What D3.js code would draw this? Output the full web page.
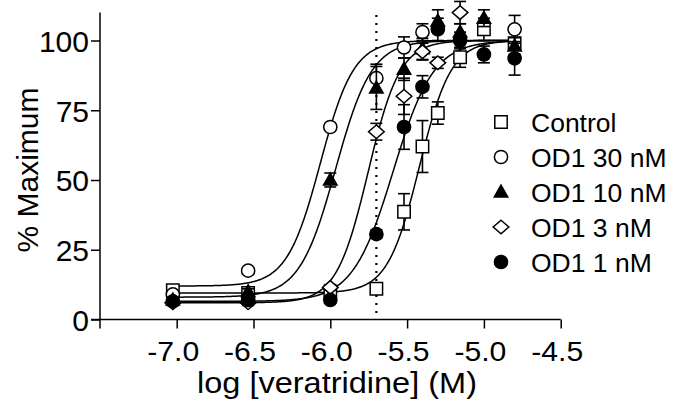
<!DOCTYPE html>
<html>
<head>
<meta charset="utf-8">
<script src="https://cdn.jsdelivr.net/npm/d3@7"></script>
<style>
  html, body { margin: 0; padding: 0; background: #fff; }
  svg { display: block; font-family: "Liberation Sans", Arial, sans-serif; }
</style>
</head>
<body>
<svg id="chart" width="676" height="414"></svg>
<script>
// Tick values
const xTickValues = [-7.0, -6.5, -6.0, -5.5, -5.0, -4.5];
const yTickValues = [0, 25, 50, 75, 100];

// log [veratridine] (M) tested
const logConc = [-7.025, -6.535, -6.0, -5.7, -5.52, -5.4, -5.3, -5.155, -5.0, -4.8];

// Series labels (legend order)
const seriesNames = ["Control", "OD1 30 nM", "OD1 10 nM", "OD1 3 nM", "OD1 1 nM"];

// Mean response (% maximum), null = not shown
const controlMean = [10.5, 9.5, 10, 11, 38.6, 62, 74, 94, 104, 99];
const od30Mean    = [9, 17.5, 69, 86.5, 97.5, 103, null, null, null, 104];
const od10Mean    = [7, 10, 50, 83, 89.7, 97, 107, 103, 108, 98];
const od3Mean     = [6, 6, 11.5, 67.3, 80, 96, 92, 110, null, null];
const od1Mean     = [6.5, 7, 7, 30.6, 69, 83.4, 104, 100, 95, 93.6];

// SEM
const controlSem = [1, 1, 1, 1, 6.5, 9.3, 4, 3.6, 4, 4];
const od30Sem    = [1, 1, 1, 5, 3.8, 3, null, null, null, 5];
const od10Sem    = [1, 1, 2.5, 7.7, 4, 3.8, 4, 3, 3, 3];
const od3Sem     = [1, 1, 1, 3, 6.5, 3, 2, 4, null, null];
const od1Sem     = [1, 1, 1, 1.5, 8, 4, 4, 3, 3, 6];

// Four-parameter logistic fits: bottom, top, logEC50, Hill slope
const fitBottom  = [9.5, 12, 8, 6, 6.5];
const fitTop     = [100, 100, 100, 100, 100];
const fitLogEC50 = [-5.42, -6.065, -5.965, -5.753, -5.59];
const fitHill    = [4.2, 4.0, 3.7, 4.2, 3.3];

// Reference concentration marked by the dotted line
const markerLogConc = [-5.7];

const means = [controlMean, od30Mean, od10Mean, od3Mean, od1Mean];
const sems = [controlSem, od30Sem, od10Sem, od3Sem, od1Sem];

// ---- drawing ----
const svg = d3.select("#chart");

const x = d3.scaleLinear().domain([-7.0, -4.5]).range([176.7, 560.7]);
const y = d3.scaleLinear().domain([0, 110]).range([319.5, 12.6]);

const axisLeftX = 100;       // y-axis position
const axisBottomY = y(0);    // x-axis position
const tickLen = 9;
const fontFam = "Liberation Sans, Arial, sans-serif";

// marker shapes
const shapes = {
  square: r => `M${-r},${-r}H${r}V${r}H${-r}Z`,
  circle: r => `M${r},0A${r},${r} 0 1,1 ${-r},0A${r},${r} 0 1,1 ${r},0Z`,
  triangle: r => `M0,${-r * 1.05}L${r * 1.02},${r * 0.75}L${-r * 1.02},${r * 0.75}Z`,
  diamond: r => `M0,${-r}L${r * 1.15},0L0,${r}L${-r * 1.15},0Z`
};
const seriesStyle = [
  { shape: "square", r: 6.2, fill: "#fff" },
  { shape: "circle", r: 6.6, fill: "#fff" },
  { shape: "triangle", r: 6.6, fill: "#000" },
  { shape: "diamond", r: 6.8, fill: "#fff" },
  { shape: "circle", r: 6.6, fill: "#000" }
];

// axes
const gx = svg.append("g").attr("transform", `translate(0,${axisBottomY})`);
gx.call(d3.axisBottom(x).tickValues(xTickValues).tickFormat(d => d.toFixed(1))
  .tickSize(tickLen).tickSizeOuter(0));
gx.select(".domain").remove();
gx.append("line").attr("x1", 91).attr("x2", x(-4.5)).attr("y1", 0).attr("y2", 0)
  .attr("stroke", "#000").attr("stroke-width", 1.5);
gx.selectAll(".tick text").attr("y", 41).attr("dy", null).attr("dx", -4)
  .attr("font-size", 27).attr("textLength", 52).attr("lengthAdjust", "spacingAndGlyphs");

const gy = svg.append("g").attr("transform", `translate(${axisLeftX},0)`);
gy.call(d3.axisLeft(y).tickValues(yTickValues).tickSize(tickLen).tickSizeOuter(0).tickPadding(2));
gy.select(".domain").remove();
gy.append("line").attr("x1", 0).attr("x2", 0).attr("y1", y(110)).attr("y2", axisBottomY + tickLen)
  .attr("stroke", "#000").attr("stroke-width", 1.5);
gy.selectAll(".tick text").attr("font-size", 30).attr("dy", "0.36em");

svg.selectAll(".tick line").attr("stroke", "#000").attr("stroke-width", 1.5);
svg.selectAll(".tick text").attr("fill", "#000").attr("font-family", fontFam);

// axis titles
svg.append("text").attr("x", 337).attr("y", 393).attr("text-anchor", "middle")
  .attr("font-size", 29).attr("textLength", 280).attr("lengthAdjust", "spacingAndGlyphs")
  .text("log [veratridine] (M)");
svg.append("text").attr("transform", "translate(38,170) rotate(-90)").attr("text-anchor", "middle")
  .attr("font-size", 30).text("% Maximum");

// dotted reference line
svg.selectAll(".ref").data(markerLogConc).enter().append("line")
  .attr("x1", d => x(d)).attr("x2", d => x(d))
  .attr("y1", 15).attr("y2", axisBottomY)
  .attr("stroke", "#000").attr("stroke-width", 2.2)
  .attr("stroke-dasharray", "2,6");

// fitted curves
const curveX = d3.range(-7.07, -4.76, 0.005);
const line = d3.line().x(d => x(d[0])).y(d => y(d[1]));
seriesNames.forEach((name, i) => {
  const pts = curveX.map(lx => [lx, fitBottom[i] + (fitTop[i] - fitBottom[i]) /
    (1 + Math.pow(10, (fitLogEC50[i] - lx) * fitHill[i]))]);
  svg.append("path").attr("d", line(pts)).attr("fill", "none")
    .attr("stroke", "#000").attr("stroke-width", 1.5);
});

// error bars and markers
const capHalf = 6;
seriesNames.forEach((name, i) => {
  const pts = logConc.map((lx, j) => ({ lx, m: means[i][j], s: sems[i][j] }))
    .filter(d => d.m !== null);
  const g = svg.append("g");
  pts.forEach(d => {
    const cx = x(d.lx), top = y(d.m + d.s), bot = y(d.m - d.s);
    g.append("line").attr("x1", cx).attr("x2", cx).attr("y1", top).attr("y2", bot)
      .attr("stroke", "#000").attr("stroke-width", 1.6);
    [top, bot].forEach(yy => g.append("line").attr("x1", cx - capHalf).attr("x2", cx + capHalf)
      .attr("y1", yy).attr("y2", yy).attr("stroke", "#000").attr("stroke-width", 1.6));
  });
  const st = seriesStyle[i];
  g.selectAll("path.mk").data(pts).enter().append("path")
    .attr("d", shapes[st.shape](st.r))
    .attr("transform", d => `translate(${x(d.lx)},${y(d.m)})`)
    .attr("fill", st.fill).attr("stroke", "#000").attr("stroke-width", 1.5);
});

// legend
const legend = svg.append("g");
const legendY = d3.scaleLinear().domain([0, 4]).range([122, 262]);
seriesNames.forEach((name, i) => {
  const st = seriesStyle[i];
  legend.append("path").attr("d", shapes[st.shape](st.r))
    .attr("transform", `translate(501,${legendY(i)})`)
    .attr("fill", st.fill).attr("stroke", "#000").attr("stroke-width", 1.5);
  legend.append("text").attr("x", 531).attr("y", legendY(i)).attr("dy", "0.36em")
    .attr("font-size", 26.5).attr("font-family", fontFam).text(name);
});
</script>
</body>
</html>
